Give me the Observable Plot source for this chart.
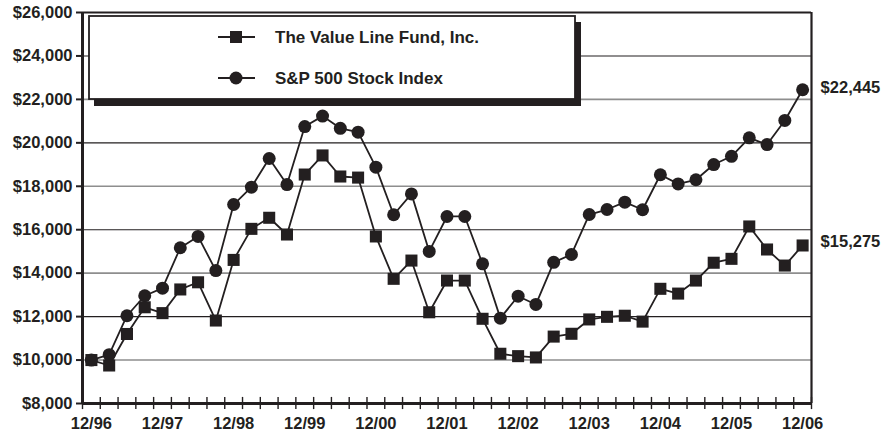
<!DOCTYPE html>
<html>
<head>
<meta charset="utf-8">
<script src="https://cdn.jsdelivr.net/npm/d3@7"></script>
<script src="https://cdn.jsdelivr.net/npm/@observablehq/plot@0.6"></script>
<style>
  html, body { margin: 0; padding: 0; background: #fff; }
  #chart { position: relative; width: 883px; height: 435px; }
</style>
</head>
<body>
<div id="chart"></div>
<script>
// ---- data (quarterly, 12/96 .. 12/06) ----
const seriesNames = ["The Value Line Fund, Inc.", "S&P 500 Stock Index"];
const yearLabels = ["12/96","12/97","12/98","12/99","12/00","12/01","12/02","12/03","12/04","12/05","12/06"];
const fund = [10000, 9750, 11200, 12430, 12160, 13250, 13580, 11820, 14610, 16040, 16550, 15780,
  18540, 19420, 18450, 18400, 15690, 13740, 14580, 12200, 13660, 13660, 11900, 10290, 10180,
  10120, 11080, 11210, 11870, 11990, 12040, 11770, 13280, 13060, 13660, 14480, 14660, 16150,
  15090, 14350, 15275];
const sp = [10000, 10250, 12040, 12960, 13310, 15170, 15690, 14120, 17160, 17960, 19280, 18080,
  20750, 21230, 20670, 20490, 18880, 16690, 17650, 15000, 16610, 16610, 14430, 11930, 12940,
  12560, 14500, 14860, 16700, 16930, 17270, 16920, 18530, 18110, 18300, 19000, 19380, 20230,
  19920, 21030, 22445];
const yTicks = [8000, 10000, 12000, 14000, 16000, 18000, 20000, 22000, 24000, 26000];
const grayGrid = [10000, 14000, 18000, 22000];
const blackGrid = [12000, 16000, 20000, 24000];

const n = fund.length;
const idx = d3.range(n);
const boundaries = d3.range(n + 1).map(i => i - 0.5);
const labelIdx = yearLabels.map((_, i) => i * 4);
const fundData = idx.map(i => ({i, v: fund[i]}));
const spData = idx.map(i => ({i, v: sp[i]}));
const ink = "#231f20";
const font = "'Liberation Sans', Arial, Helvetica, sans-serif";
const fmt = d => "$" + d3.format(",")(d);

const chart = Plot.plot({
  width: 883,
  height: 435,
  marginLeft: 82,
  marginRight: 72,
  marginTop: 12,
  marginBottom: 32,
  style: {fontFamily: font, background: "#fff", color: ink, overflow: "visible"},
  x: {domain: [-0.5, n - 0.5], axis: null},
  y: {domain: [8000, 26000], axis: null},
  marks: [
    Plot.ruleY(grayGrid, {stroke: "#8e8e8e", strokeWidth: 1.6}),
    Plot.ruleY(blackGrid, {stroke: ink, strokeWidth: 1.1}),
    Plot.ruleY([26000], {stroke: ink, strokeWidth: 2}),
    Plot.ruleX([n - 0.5], {stroke: ink, strokeWidth: 2.2}),
    Plot.ruleX(boundaries, {y1: 7720, y2: 8280, stroke: ink, strokeWidth: 1.4}),
    Plot.ruleX([-0.5], {stroke: ink, strokeWidth: 3}),
    Plot.ruleY([8000], {stroke: ink, strokeWidth: 3}),
    Plot.axisY({ticks: yTicks, tickFormat: fmt, tickSize: 6, tickPadding: 4, label: null,
      fontSize: 16.5, fontWeight: "bold", stroke: ink, strokeWidth: 2, fill: ink}),
    Plot.axisX({ticks: labelIdx, tickFormat: i => yearLabels[i / 4], tickSize: 0, tickPadding: 14,
      label: null, fontSize: 16.5, fontWeight: "bold", fill: ink}),
    Plot.line(spData, {x: "i", y: "v", stroke: ink, strokeWidth: 1.8}),
    Plot.line(fundData, {x: "i", y: "v", stroke: ink, strokeWidth: 1.8}),
    Plot.dot(spData, {x: "i", y: "v", r: 6.5, fill: ink, symbol: "circle"}),
    Plot.dot(fundData, {x: "i", y: "v", r: 6.8, fill: ink, symbol: "square"}),
    Plot.text([spData[n - 1]], {x: "i", y: "v", text: d => fmt(d.v), dx: 18, dy: -2,
      textAnchor: "start", fontSize: 16.5, fontWeight: "bold", fill: ink}),
    Plot.text([fundData[n - 1]], {x: "i", y: "v", text: d => fmt(d.v), dx: 18, dy: -4,
      textAnchor: "start", fontSize: 16.5, fontWeight: "bold", fill: ink})
  ]
});

document.getElementById("chart").appendChild(chart);

// ---- legend box with drop shadow ----
const svg = d3.select(chart);
const g = svg.append("g").attr("font-family", font).attr("text-anchor", "start");
g.append("rect").attr("x", 94).attr("y", 22).attr("width", 487).attr("height", 84).attr("fill", ink);
g.append("rect").attr("x", 89).attr("y", 16).attr("width", 486).attr("height", 83)
  .attr("fill", "#fff").attr("stroke", ink).attr("stroke-width", 1.8);
const symbols = [d3.symbolSquare, d3.symbolCircle];
const sizes = [(6.8 * 6.8) * Math.PI, (6.5 * 6.5) * Math.PI];
seriesNames.forEach((name, k) => {
  const cy = k === 0 ? 37 : 78;
  g.append("line").attr("x1", 218).attr("x2", 255).attr("y1", cy).attr("y2", cy)
    .attr("stroke", ink).attr("stroke-width", 1.8);
  g.append("path").attr("d", d3.symbol(symbols[k], sizes[k])())
    .attr("transform", `translate(236,${cy})`).attr("fill", ink);
  g.append("text").attr("x", 275).attr("y", cy).attr("dy", "0.36em").attr("text-anchor", "start")
    .attr("font-size", 17).attr("font-weight", "bold").attr("fill", ink).text(name);
});
</script>
</body>
</html>
